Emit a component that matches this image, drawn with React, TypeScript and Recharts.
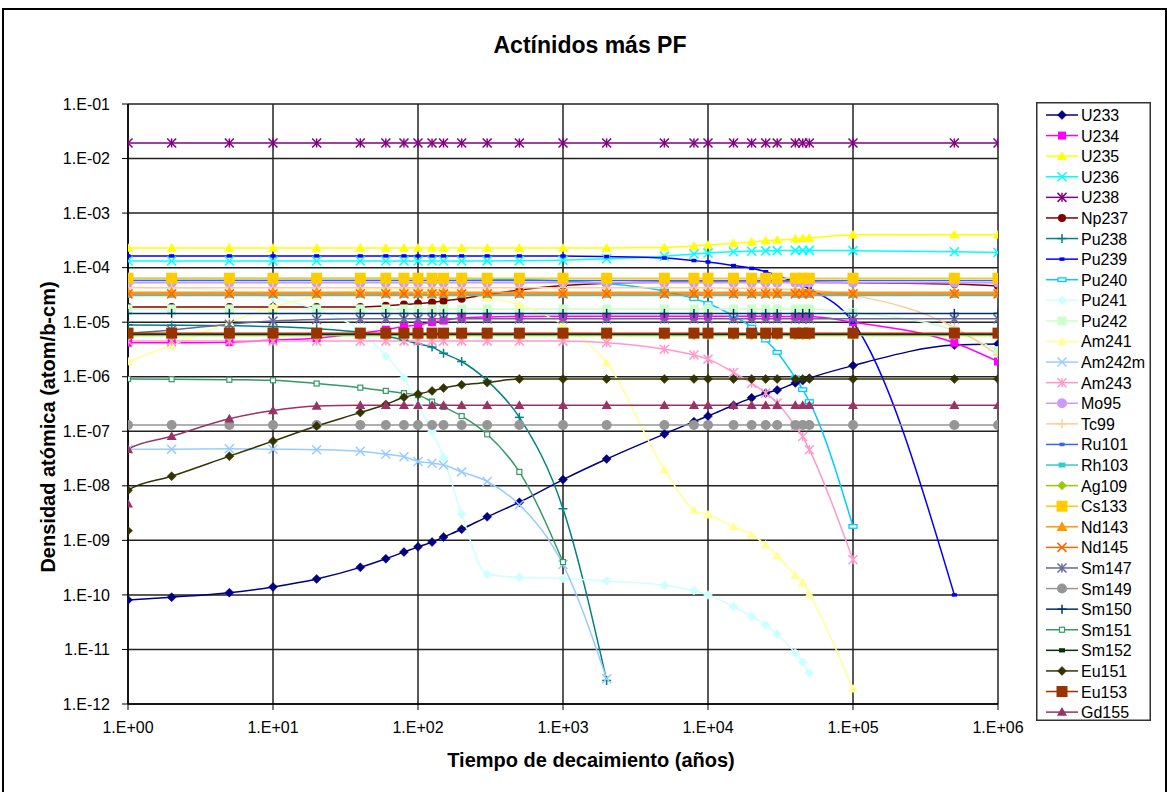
import React from 'react';
import { LineChart, Line, XAxis, YAxis, CartesianGrid, Legend } from 'recharts';

// Decay times (years)
const TIMES = [1, 2, 5, 10, 20, 40, 60, 80, 100, 125, 150, 200, 300, 500, 1000, 2000, 5000, 8000, 10000, 15000, 20000, 25000, 30000, 40000, 45000, 50000, 100000, 500000, 1000000];

const N = null;
const U233 = [8.1e-11, 9.1e-11, 1.1e-10, 1.4e-10, 1.96e-10, 3.2e-10, 4.6e-10, 6.1e-10, 7.6e-10, 9.3e-10, 1.15e-9, 1.6e-9, 2.7e-9, 5.0e-9, 1.3e-8, 3.1e-8, 8.9e-8, 1.5e-7, 1.9e-7, 3.0e-7, 4.1e-7, 5.0e-7, 5.7e-7, 7.7e-7, 8.5e-7, 9.4e-7, 1.6e-6, 3.8e-6, 4.0e-6];
const U234 = [4.2e-6, 4.2e-6, 4.3e-6, 4.7e-6, 5.1e-6, 6.3e-6, 7.3e-6, 8.3e-6, 8.9e-6, 1.0e-5, 1.07e-5, 1.2e-5, 1.25e-5, 1.27e-5, 1.28e-5, 1.28e-5, 1.28e-5, 1.28e-5, 1.28e-5, 1.28e-5, 1.28e-5, 1.28e-5, 1.27e-5, 1.27e-5, 1.27e-5, 1.27e-5, 1.0e-5, 4.2e-6, 1.9e-6];
const U235 = [2.3e-4, 2.3e-4, 2.3e-4, 2.3e-4, 2.3e-4, 2.3e-4, 2.3e-4, 2.3e-4, 2.3e-4, 2.3e-4, 2.3e-4, 2.3e-4, 2.3e-4, 2.3e-4, 2.3e-4, 2.3e-4, 2.35e-4, 2.5e-4, 2.6e-4, 2.8e-4, 2.95e-4, 3.1e-4, 3.2e-4, 3.35e-4, 3.45e-4, 3.5e-4, 4.0e-4, 4.0e-4, 4.0e-4];
const U236 = [1.32e-4, 1.32e-4, 1.32e-4, 1.32e-4, 1.32e-4, 1.32e-4, 1.32e-4, 1.32e-4, 1.32e-4, 1.32e-4, 1.32e-4, 1.32e-4, 1.33e-4, 1.34e-4, 1.37e-4, 1.45e-4, 1.62e-4, 1.78e-4, 1.85e-4, 1.95e-4, 2.0e-4, 2.03e-4, 2.05e-4, 2.07e-4, 2.07e-4, 2.07e-4, 2.05e-4, 1.95e-4, 1.9e-4];
const U238 = [1.93e-2, 1.93e-2, 1.93e-2, 1.93e-2, 1.93e-2, 1.93e-2, 1.93e-2, 1.93e-2, 1.93e-2, 1.93e-2, 1.93e-2, 1.93e-2, 1.93e-2, 1.93e-2, 1.93e-2, 1.93e-2, 1.93e-2, 1.93e-2, 1.93e-2, 1.93e-2, 1.93e-2, 1.93e-2, 1.93e-2, 1.93e-2, 1.93e-2, 1.93e-2, 1.93e-2, 1.93e-2, 1.93e-2];
const Np237 = [1.9e-5, 1.9e-5, 1.9e-5, 1.9e-5, 1.9e-5, 1.9e-5, 2.0e-5, 2.1e-5, 2.2e-5, 2.3e-5, 2.45e-5, 2.7e-5, 3.2e-5, 3.9e-5, 4.7e-5, 5.2e-5, 5.4e-5, 5.4e-5, 5.4e-5, 5.4e-5, 5.4e-5, 5.4e-5, 5.4e-5, 5.4e-5, 5.4e-5, 5.4e-5, 5.3e-5, 5.0e-5, 4.6e-5];
const Pu238 = [8.9e-6, 8.8e-6, 8.6e-6, 8.3e-6, 7.6e-6, 6.5e-6, 5.5e-6, 4.7e-6, 4.0e-6, 3.5e-6, 2.7e-6, 1.9e-6, 8.5e-7, 1.8e-7, 3.8e-9, 2.7e-12, N, N, N, N, N, N, N, N, N, N, N, N, N];
const Pu239 = [1.64e-4, 1.64e-4, 1.64e-4, 1.64e-4, 1.64e-4, 1.64e-4, 1.64e-4, 1.64e-4, 1.64e-4, 1.64e-4, 1.64e-4, 1.64e-4, 1.64e-4, 1.64e-4, 1.64e-4, 1.6e-4, 1.5e-4, 1.35e-4, 1.27e-4, 1.09e-4, 9.7e-5, 8.4e-5, 7.2e-5, 5.4e-5, 4.7e-5, 4.1e-5, 1.0e-5, 1.0e-10, N];
const Pu240 = [6.3e-5, 6.3e-5, 6.3e-5, 6.3e-5, 6.3e-5, 6.3e-5, 6.3e-5, 6.3e-5, 6.3e-5, 6.3e-5, 6.3e-5, 6.3e-5, 6.2e-5, 6.0e-5, 5.7e-5, 5.1e-5, 3.7e-5, 2.7e-5, 2.2e-5, 1.3e-5, 8.1e-6, 4.7e-6, 2.8e-6, 9.5e-7, 5.8e-7, 3.5e-7, 1.8e-9, N, N];
const Pu241 = [4.4e-5, 4.2e-5, 3.7e-5, 2.8e-5, 1.7e-5, 7.0e-6, 2.4e-6, 9.6e-7, 3.0e-7, 1.0e-7, 3.3e-8, 3.0e-9, 2.4e-10, 2.1e-10, 2.0e-10, 1.8e-10, 1.5e-10, 1.2e-10, 1.0e-10, 6.1e-11, 4.0e-11, 2.8e-11, 1.9e-11, 8.6e-12, 5.8e-12, 3.7e-12, N, N, N];
const Pu242 = [1.75e-5, 1.75e-5, 1.75e-5, 1.75e-5, 1.75e-5, 1.75e-5, 1.75e-5, 1.75e-5, 1.75e-5, 1.75e-5, 1.75e-5, 1.75e-5, 1.75e-5, 1.75e-5, 1.75e-5, 1.75e-5, 1.75e-5, 1.75e-5, 1.75e-5, 1.75e-5, 1.75e-5, 1.75e-5, 1.75e-5, 1.75e-5, 1.75e-5, 1.75e-5, 1.5e-5, 7.0e-6, 3.0e-6];
const Am241 = [1.9e-6, 3.8e-6, 1.0e-5, 1.9e-5, 3.0e-5, 3.9e-5, 4.1e-5, 4.1e-5, 4.0e-5, 3.9e-5, 3.8e-5, 3.5e-5, 2.8e-5, 2.1e-5, 8.9e-6, 1.8e-6, 2.0e-8, 3.6e-9, 2.95e-9, 1.8e-9, 1.26e-9, 8.3e-10, 5.2e-10, 2.3e-10, 1.67e-10, 1.04e-10, 1.9e-12, N, N];
const Am242m = [4.7e-8, 4.7e-8, 4.8e-8, 4.7e-8, 4.6e-8, 4.3e-8, 3.8e-8, 3.4e-8, 2.8e-8, 2.6e-8, 2.4e-8, 1.8e-8, 1.2e-8, 4.5e-9, 3.6e-10, 2.9e-12, N, N, N, N, N, N, N, N, N, N, N, N, N];
const Am243 = [4.5e-6, 4.5e-6, 4.5e-6, 4.5e-6, 4.5e-6, 4.5e-6, 4.5e-6, 4.5e-6, 4.5e-6, 4.5e-6, 4.5e-6, 4.5e-6, 4.5e-6, 4.5e-6, 4.5e-6, 4.2e-6, 3.2e-6, 2.5e-6, 2.1e-6, 1.2e-6, 7.6e-7, 5.0e-7, 3.3e-7, 1.25e-7, 8.0e-8, 4.6e-8, 4.4e-10, N, N];
const Mo95 = TIMES.map(() => 5.3e-5);
const Tc99 = [4.3e-5, 4.3e-5, 4.3e-5, 4.3e-5, 4.3e-5, 4.3e-5, 4.3e-5, 4.3e-5, 4.3e-5, 4.3e-5, 4.3e-5, 4.3e-5, 4.3e-5, 4.3e-5, 4.3e-5, 4.3e-5, 4.3e-5, 4.3e-5, 4.3e-5, 4.2e-5, 4.2e-5, 4.2e-5, 4.1e-5, 4.0e-5, 4.0e-5, 3.9e-5, 3.1e-5, 8.0e-6, 2.5e-6];
const Ru101 = TIMES.map(() => 5.8e-5);
const Rh103 = TIMES.map(() => 3.1e-5);
const Ag109 = TIMES.map(() => 5.7e-6);
const Cs133 = TIMES.map(() => 6.4e-5);
const Nd143 = TIMES.map(() => 3.55e-5);
const Nd145 = TIMES.map(() => 3.3e-5);
const Sm147 = [6.3e-6, 7.2e-6, 9.2e-6, 1.05e-5, 1.12e-5, 1.15e-5, 1.15e-5, 1.15e-5, 1.15e-5, 1.15e-5, 1.15e-5, 1.15e-5, 1.15e-5, 1.15e-5, 1.15e-5, 1.15e-5, 1.15e-5, 1.15e-5, 1.15e-5, 1.15e-5, 1.15e-5, 1.15e-5, 1.15e-5, 1.15e-5, 1.15e-5, 1.15e-5, 1.15e-5, 1.15e-5, 1.15e-5];
const Sm149 = TIMES.map(() => 1.3e-7);
const Sm150 = TIMES.map(() => 1.45e-5);
const Sm151 = [9.1e-7, 9.0e-7, 8.8e-7, 8.6e-7, 7.5e-7, 6.3e-7, 5.5e-7, 5.0e-7, 4.6e-7, 3.5e-7, 2.8e-7, 1.9e-7, 8.8e-8, 1.8e-8, 4.0e-10, N, N, N, N, N, N, N, N, N, N, N, N, N, N];
const Sm152 = TIMES.map(() => 6.0e-6);
const Eu151 = [8.3e-9, 1.5e-8, 3.5e-8, 6.6e-8, 1.25e-7, 2.2e-7, 3.1e-7, 4.2e-7, 4.8e-7, 5.5e-7, 6.2e-7, 7.1e-7, 7.8e-7, 9.1e-7, 9.1e-7, 9.1e-7, 9.1e-7, 9.1e-7, 9.1e-7, 9.1e-7, 9.1e-7, 9.1e-7, 9.1e-7, 9.1e-7, 9.1e-7, 9.1e-7, 9.1e-7, 9.1e-7, 9.1e-7];
const Eu153 = TIMES.map(() => 6.3e-6);
const Gd155 = [4.7e-8, 8.1e-8, 1.7e-7, 2.4e-7, 2.9e-7, 3.0e-7, 3.0e-7, 3.0e-7, 3.0e-7, 3.0e-7, 3.0e-7, 3.0e-7, 3.0e-7, 3.0e-7, 3.0e-7, 3.0e-7, 3.0e-7, 3.0e-7, 3.0e-7, 3.0e-7, 3.0e-7, 3.0e-7, 3.0e-7, 3.0e-7, 3.0e-7, 3.0e-7, 3.0e-7, 3.0e-7, 3.0e-7];

// Values at t = 0 (Excel draws a zero time at 1 on a log axis)
const AT_ZERO: Record<string, number> = { Eu151: 1.5e-9, Gd155: 4.7e-9 };

const X_TICKS = [1, 10, 100, 1000, 10000, 100000, 1000000];
const Y_TICKS = [1e-12, 1e-11, 1e-10, 1e-9, 1e-8, 1e-7, 1e-6, 1e-5, 1e-4, 1e-3, 1e-2, 1e-1];

type Shape = 'diamond' | 'square' | 'triangle' | 'x' | 'star' | 'circle' | 'plus' | 'dash' | 'rectHollow' | 'squareHollow';

const SERIES: { name: string; values: (number | null)[]; color: string; shape: Shape; size: number }[] = [
  { name: 'U233', values: U233, color: '#000080', shape: 'diamond', size: 9 },
  { name: 'U234', values: U234, color: '#FF00FF', shape: 'square', size: 8 },
  { name: 'U235', values: U235, color: '#FFFF00', shape: 'triangle', size: 10 },
  { name: 'U236', values: U236, color: '#00FFFF', shape: 'x', size: 9 },
  { name: 'U238', values: U238, color: '#800080', shape: 'star', size: 9 },
  { name: 'Np237', values: Np237, color: '#800000', shape: 'circle', size: 8 },
  { name: 'Pu238', values: Pu238, color: '#008080', shape: 'plus', size: 9 },
  { name: 'Pu239', values: Pu239, color: '#0000FF', shape: 'dash', size: 5 },
  { name: 'Pu240', values: Pu240, color: '#00CCFF', shape: 'rectHollow', size: 8 },
  { name: 'Pu241', values: Pu241, color: '#CCFFFF', shape: 'diamond', size: 9 },
  { name: 'Pu242', values: Pu242, color: '#CCFFCC', shape: 'square', size: 9 },
  { name: 'Am241', values: Am241, color: '#FFFF99', shape: 'triangle', size: 10 },
  { name: 'Am242m', values: Am242m, color: '#99CCFF', shape: 'x', size: 9 },
  { name: 'Am243', values: Am243, color: '#FF99CC', shape: 'star', size: 9 },
  { name: 'Mo95', values: Mo95, color: '#CC99FF', shape: 'circle', size: 10 },
  { name: 'Tc99', values: Tc99, color: '#FFCC99', shape: 'plus', size: 9 },
  { name: 'Ru101', values: Ru101, color: '#3366FF', shape: 'dash', size: 5 },
  { name: 'Rh103', values: Rh103, color: '#33CCCC', shape: 'dash', size: 7 },
  { name: 'Ag109', values: Ag109, color: '#99CC00', shape: 'diamond', size: 9 },
  { name: 'Cs133', values: Cs133, color: '#FFCC00', shape: 'square', size: 11 },
  { name: 'Nd143', values: Nd143, color: '#FF9900', shape: 'triangle', size: 11 },
  { name: 'Nd145', values: Nd145, color: '#FF6600', shape: 'x', size: 9 },
  { name: 'Sm147', values: Sm147, color: '#666699', shape: 'star', size: 9 },
  { name: 'Sm149', values: Sm149, color: '#969696', shape: 'circle', size: 10 },
  { name: 'Sm150', values: Sm150, color: '#003366', shape: 'plus', size: 9 },
  { name: 'Sm151', values: Sm151, color: '#339966', shape: 'squareHollow', size: 5 },
  { name: 'Sm152', values: Sm152, color: '#003300', shape: 'dash', size: 6 },
  { name: 'Eu151', values: Eu151, color: '#333300', shape: 'diamond', size: 9 },
  { name: 'Eu153', values: Eu153, color: '#993300', shape: 'square', size: 11 },
  { name: 'Gd155', values: Gd155, color: '#993366', shape: 'triangle', size: 10 },
];

const FONT = '"Liberation Sans", Arial, sans-serif';

function Marker({ cx, cy, shape, color, size }: { cx: number; cy: number; shape: Shape; color: string; size: number }) {
  const h = size / 2;
  switch (shape) {
    case 'diamond':
      return <polygon points={`${cx},${cy - h} ${cx + h},${cy} ${cx},${cy + h} ${cx - h},${cy}`} fill={color} stroke={color} strokeWidth={0.5} />;
    case 'square':
      return <rect x={cx - h} y={cy - h} width={size} height={size} fill={color} />;
    case 'triangle':
      return <polygon points={`${cx},${cy - h} ${cx + h},${cy + h * 0.75} ${cx - h},${cy + h * 0.75}`} fill={color} />;
    case 'x':
      return (
        <g stroke={color} strokeWidth={1.5}>
          <line x1={cx - h} y1={cy - h} x2={cx + h} y2={cy + h} />
          <line x1={cx - h} y1={cy + h} x2={cx + h} y2={cy - h} />
        </g>
      );
    case 'star':
      return (
        <g stroke={color} strokeWidth={1.5}>
          <line x1={cx - h} y1={cy - h} x2={cx + h} y2={cy + h} />
          <line x1={cx - h} y1={cy + h} x2={cx + h} y2={cy - h} />
          <line x1={cx} y1={cy - h} x2={cx} y2={cy + h} />
        </g>
      );
    case 'circle':
      return <circle cx={cx} cy={cy} r={h} fill={color} />;
    case 'plus':
      return (
        <g stroke={color} strokeWidth={1.5}>
          <line x1={cx} y1={cy - h} x2={cx} y2={cy + h} />
          <line x1={cx - h} y1={cy} x2={cx + h} y2={cy} />
        </g>
      );
    case 'dash':
      return <rect x={cx - h} y={cy - h * 0.7} width={size} height={size * 0.7} fill={color} />;
    case 'rectHollow':
      return <rect x={cx - h} y={cy - h * 0.45} width={size} height={size * 0.45} fill="#fff" stroke={color} strokeWidth={1.3} />;
    case 'squareHollow':
      return <rect x={cx - h} y={cy - h} width={size} height={size} fill="#fff" stroke={color} strokeWidth={1.2} />;
    default:
      return null;
  }
}

const fmtExp = (v: number) => {
  const e = Math.round(Math.log10(v));
  return `1.E${e < 0 ? '-' : '+'}${String(Math.abs(e)).padStart(2, '0')}`;
};

function LegendBox() {
  const rowH = 20.59;
  const w = 115;
  const h = 619;
  return (
    <svg width={w} height={h} style={{ display: 'block' }}>
      <rect x={0.75} y={0.75} width={w - 1.5} height={h - 1.5} fill="#fff" stroke="#333" strokeWidth={1.5} />
      {SERIES.map((s, i) => {
        const y = 13 + i * rowH;
        return (
          <g key={s.name}>
            <line x1={10} y1={y} x2={42} y2={y} stroke={s.color} strokeWidth={1.5} />
            <Marker cx={26} cy={y} shape={s.shape} color={s.color} size={s.size} />
            <text x={45} y={y + 6} fontSize={16} fontFamily={FONT} fill="#000">{s.name}</text>
          </g>
        );
      })}
    </svg>
  );
}

export default function App() {
  return (
    <div style={{ position: 'absolute', left: 0, top: 0, width: 1167, height: 792, background: '#fff', overflow: 'hidden', fontFamily: FONT }}>
      <div style={{ position: 'absolute', left: 2, top: 8, width: 1161, height: 800, borderTop: '2px solid #000', borderLeft: '2px solid #000', borderRight: '2px solid #000' }} />
      <LineChart width={1167} height={792} margin={{ top: 104, right: 169, bottom: 58, left: 0 }}>
        <CartesianGrid stroke="#222" strokeWidth={1.5} />
        <XAxis
          dataKey="t"
          type="number"
          scale="log"
          domain={[1, 1000000]}
          ticks={X_TICKS}
          allowDataOverflow
          height={30}
          tickFormatter={fmtExp}
          tick={{ fill: '#000', fontSize: 16, fontFamily: FONT }}
          tickSize={6}
          tickMargin={12}
          axisLine={{ stroke: '#000', strokeWidth: 1.5 }}
          tickLine={{ stroke: '#000' }}
        />
        <YAxis
          dataKey="v"
          type="number"
          scale="log"
          domain={[1e-12, 1e-1]}
          ticks={Y_TICKS}
          allowDataOverflow
          width={128}
          tickFormatter={fmtExp}
          tick={{ fill: '#000', fontSize: 16, fontFamily: FONT }}
          tickSize={6}
          tickMargin={12}
          axisLine={{ stroke: '#000', strokeWidth: 1.5 }}
          tickLine={{ stroke: '#000' }}
        />
        {SERIES.map((s) => {
          const data: { t: number; v: number | null }[] = [];
          if (AT_ZERO[s.name] !== undefined) data.push({ t: 1, v: AT_ZERO[s.name] });
          TIMES.forEach((t, i) => data.push({ t, v: s.values[i] }));
          return (
            <Line
              key={s.name}
              data={data}
              dataKey="v"
              name={s.name}
              type="monotone"
              stroke={s.color}
              strokeWidth={1.5}
              isAnimationActive={false}
              activeDot={false}
              dot={(p: any) => {
                if (p.cx == null || p.cy == null || p.value == null) return <g key={`${s.name}-${p.index}`} />;
                return (
                  <g key={`${s.name}-${p.index}`}>
                    <Marker cx={p.cx} cy={p.cy} shape={s.shape} color={s.color} size={s.size} />
                  </g>
                );
              }}
            />
          );
        })}
        <Legend
          layout="vertical"
          align="center"
          verticalAlign="middle"
          wrapperStyle={{ left: 1036, top: 102, width: 115, height: 619 }}
          content={() => <LegendBox />}
        />
      </LineChart>
      <div style={{ position: 'absolute', left: 0, width: 1180, top: 32, textAlign: 'center', fontSize: 23, fontWeight: 'bold', color: '#000' }}>
        Actínidos más PF
      </div>
      <div style={{ position: 'absolute', left: 0, width: 1182, top: 749, textAlign: 'center', fontSize: 20, fontWeight: 'bold', color: '#000' }}>
        Tiempo de decaimiento (años)
      </div>
      <div style={{ position: 'absolute', left: 48, top: 427, transform: 'translate(-50%, -50%) rotate(-90deg)', whiteSpace: 'nowrap', fontSize: 20, fontWeight: 'bold', color: '#000' }}>
        Densidad atómica (atom/b-cm)
      </div>
    </div>
  );
}
